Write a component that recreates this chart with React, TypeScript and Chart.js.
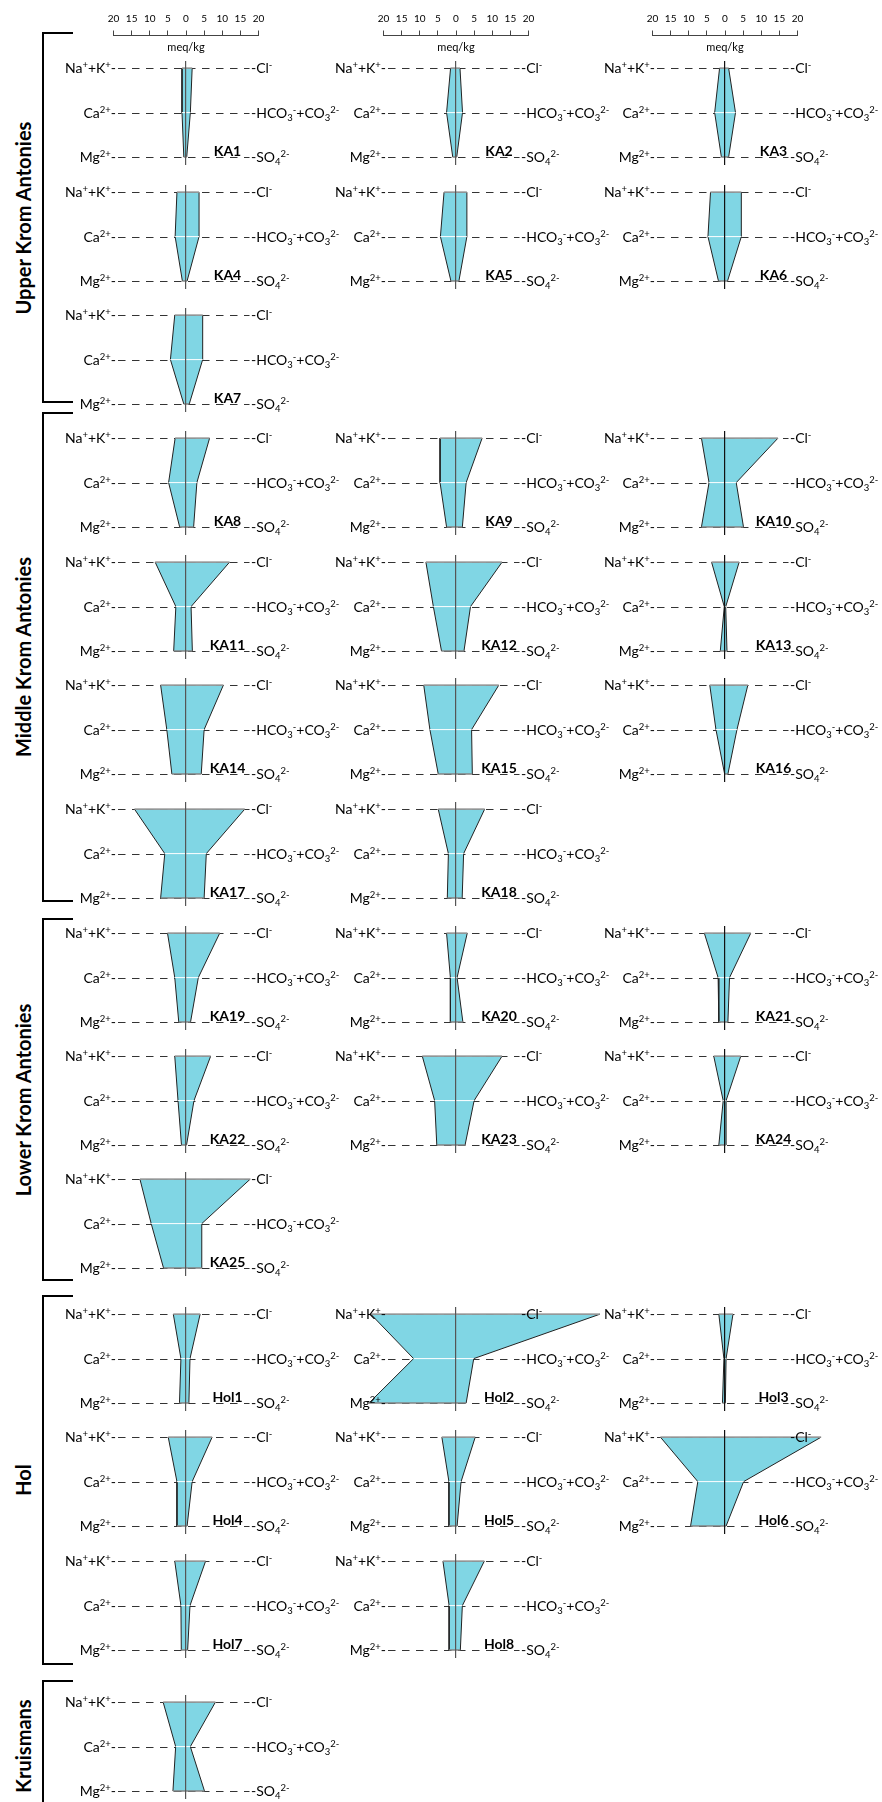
import React, { useEffect, useRef } from 'react';
import { Chart, registerables } from 'chart.js';

Chart.register(...registerables);

// ---------------- data ----------------
const groupNames = ['Upper Krom Antonies', 'Middle Krom Antonies', 'Lower Krom Antonies', 'Hol', 'Kruismans'];
const groupSizes = [7, 11, 7, 8, 1];

const sampleNames = [
  'KA1', 'KA2', 'KA3', 'KA4', 'KA5', 'KA6', 'KA7',
  'KA8', 'KA9', 'KA10', 'KA11', 'KA12', 'KA13', 'KA14', 'KA15', 'KA16', 'KA17', 'KA18',
  'KA19', 'KA20', 'KA21', 'KA22', 'KA23', 'KA24', 'KA25',
  'Hol1', 'Hol2', 'Hol3', 'Hol4', 'Hol5', 'Hol6', 'Hol7', 'Hol8',
  '',
];

// cations (meq/kg), plotted to the left
const naK = [1.1, 1.5, 1.5, 2.5, 3.3, 4.0, 3.1, 3.0, 4.4, 6.5, 8.5, 8.3, 3.7, 7.0, 8.9, 4.2, 14.2, 4.9, 5.1, 2.6, 5.7, 3.1, 9.3, 3.1, 12.7, 3.5, 23.5, 1.7, 4.9, 3.9, 17.8, 3.1, 3.6, 6.3];
const ca = [1.1, 2.6, 2.85, 3.0, 4.3, 4.7, 4.3, 4.8, 4.4, 4.4, 2.8, 6.25, 0.2, 5.3, 7.2, 2.5, 5.85, 2.1, 3.1, 1.55, 1.9, 2.2, 5.9, 0.5, 9.6, 1.4, 11.7, 0.3, 2.5, 1.95, 7.5, 1.4, 1.9, 2.85];
const mg = [0.6, 0.9, 1.0, 1.0, 1.4, 1.8, 0.6, 1.75, 2.6, 6.5, 3.4, 4.0, 1.3, 3.9, 4.9, 0.1, 7.0, 2.4, 2.0, 1.55, 1.7, 1.25, 5.3, 1.7, 6.2, 1.8, 24.0, 0.7, 2.5, 1.95, 9.5, 1.3, 1.9, 3.6];
// anions (meq/kg), plotted to the right
const cl = [1.7, 1.1, 1.0, 3.6, 3.0, 4.5, 4.6, 6.5, 7.2, 14.6, 12.0, 12.7, 3.9, 10.3, 11.8, 6.3, 16.2, 7.9, 9.3, 3.1, 7.1, 6.8, 12.7, 4.35, 17.7, 3.9, 39.7, 2.2, 7.2, 5.3, 26.5, 5.4, 7.8, 8.1];
const hco3 = [1.2, 1.8, 2.9, 3.6, 3.0, 4.5, 4.6, 3.0, 2.8, 3.1, 1.4, 4.0, 0.2, 5.0, 4.3, 3.3, 5.6, 2.1, 3.4, 0.3, 1.25, 2.2, 5.0, 0.3, 4.35, 1.1, 4.9, 0.3, 1.7, 1.4, 5.15, 1.1, 1.75, 1.2];
const so4 = [0.2, 0.2, 1.0, 0.3, 0.8, 0.7, 0.9, 2.1, 1.75, 5.1, 1.75, 2.2, 0.55, 4.2, 4.5, 0.8, 5.0, 1.7, 1.25, 1.9, 0.8, 0.15, 2.5, 0.3, 4.35, 0.8, 2.8, 0.1, 0.3, 0.3, 0.3, 0.45, 1.2, 5.1];

const axisMax = 20;
const axisStep = 5;
const unitLabel = 'meq/kg';

type Seg = [string, number]; // 0 normal, 1 superscript, 2 subscript
const leftIons: Seg[][] = [
  [['Na', 0], ['+', 1], ['+', 0], ['K', 0], ['+', 1], ['-', 0]],
  [['Ca', 0], ['2+', 1], ['-', 0]],
  [['Mg', 0], ['2+', 1], ['-', 0]],
];
const rightIons: Seg[][] = [
  [['-Cl', 0], ['-', 1]],
  [['-HCO', 0], ['3', 2], ['-', 1], ['+CO', 0], ['3', 2], ['2-', 1]],
  [['-SO', 0], ['4', 2], ['2-', 1]],
];

// ---------------- layout / style ----------------
const FONT = 'Lato, "Open Sans", sans-serif';
const FILL = 'rgb(128,214,228)';
const PX_PER_MEQ = 3.625;
const ION_GAP = 44.4;
const COL_X = [185.7, 456, 725.3];
const ROW_Y = [68.3, 191.7, 315, 438.4, 562, 685.6, 809, 933, 1056.3, 1179.5, 1314, 1437.6, 1561, 1702.3];
const GROUP_FIRST_ROW = [0, 3, 7, 10, 13];
const BRACKETS = [[33.3, 402.3], [412.7, 900.5], [919, 1280], [1296, 1664.3], [1681.3, 1850]];
const GROUP_LABEL_Y = [217.8, 656.6, 1099.5, 1480, 1745.6];
const NAME_DX = [41.5, 43, 48.5];
const CENTER_LINE = ['#555', '#555', '#111'];

const CANVAS_L = 130;
const CANVAS_R = 170;
const PAD_V = 12;
const AREA_TOP = 7.2;
const AREA_H = 104;
const DASH_L = 68;
const DASH_R = 63.5;
const LABEL_L = 70;
const LABEL_R = 65;

const MAIN_FONT = `14px ${FONT}`;
const SMALL_FONT = `9.5px ${FONT}`;

function drawRich(ctx: CanvasRenderingContext2D, segs: Seg[], x: number, y: number, align: 'left' | 'right') {
  let w = 0;
  for (const [t, k] of segs) {
    ctx.font = k ? SMALL_FONT : MAIN_FONT;
    w += ctx.measureText(t).width;
  }
  let cx = align === 'right' ? x - w : x;
  ctx.textAlign = 'left';
  ctx.textBaseline = 'alphabetic';
  for (const [t, k] of segs) {
    ctx.font = k ? SMALL_FONT : MAIN_FONT;
    const dy = k === 1 ? -4.8 : k === 2 ? 3 : 0;
    ctx.fillText(t, cx, y + dy);
    cx += ctx.measureText(t).width;
  }
}

function placement(i: number) {
  let start = 0;
  for (let g = 0; g < groupSizes.length; g++) {
    if (i < start + groupSizes[g]) {
      const j = i - start;
      return { row: GROUP_FIRST_ROW[g] + Math.floor(j / 3), col: j % 3 };
    }
    start += groupSizes[g];
  }
  return { row: 0, col: 0 };
}

function edge(data: { x: number; y: number }[], color: string, order: number) {
  return {
    data, showLine: true, borderColor: color, borderWidth: 1, pointRadius: 0, fill: false, order,
  } as any;
}

function StiffDiagram({ i }: { i: number }) {
  const ref = useRef<HTMLCanvasElement>(null);
  const { row, col } = placement(i);
  const left = Math.round(COL_X[col] - CANVAS_L);
  const top = Math.round(ROW_Y[row] - AREA_TOP - PAD_V);
  const W = CANVAS_L + CANVAS_R;
  const H = AREA_H + 2 * PAD_V;

  useEffect(() => {
    const poly = [
      { x: -naK[i], y: 0 }, { x: -ca[i], y: 1 }, { x: -mg[i], y: 2 },
      { x: so4[i], y: 2 }, { x: hco3[i], y: 1 }, { x: cl[i], y: 0 }, { x: -naK[i], y: 0 },
    ];
    const guides = {
      id: 'stiffGuides',
      beforeDatasetsDraw(chart: any) {
        const { ctx, scales: { x, y } } = chart;
        const c0 = x.getPixelForValue(0);
        ctx.save();
        ctx.strokeStyle = '#333';
        ctx.lineWidth = 1;
        ctx.setLineDash([7.5, 6.5]);
        for (let r = 0; r < 3; r++) {
          const py = Math.round(y.getPixelForValue(r)) + 0.5;
          ctx.beginPath();
          ctx.moveTo(c0 - DASH_L, py);
          ctx.lineTo(c0 + DASH_R, py);
          ctx.stroke();
        }
        ctx.restore();
      },
      afterDraw(chart: any) {
        const { ctx, scales: { x, y } } = chart;
        const c0 = x.getPixelForValue(0);
        ctx.save();
        ctx.fillStyle = '#000';
        for (let r = 0; r < 3; r++) {
          const py = y.getPixelForValue(r) + 5;
          drawRich(ctx, leftIons[r], c0 - LABEL_L, py, 'right');
          drawRich(ctx, rightIons[r], c0 + LABEL_R, py, 'left');
        }
        if (sampleNames[i]) {
          ctx.font = `bold 14px ${FONT}`;
          ctx.textAlign = 'center';
          ctx.textBaseline = 'alphabetic';
          ctx.fillText(sampleNames[i], c0 + NAME_DX[col], y.getPixelForValue(2) - 1.5);
        }
        ctx.restore();
      },
    };
    const chart = new Chart(ref.current as HTMLCanvasElement, {
      type: 'scatter',
      data: {
        datasets: [
          edge([{ x: -ca[i], y: 1 }, { x: hco3[i], y: 1 }], '#ffffff', 0),
          edge([{ x: -naK[i], y: 0 }, { x: cl[i], y: 0 }], '#b5b5b5', 0),
          edge([{ x: -mg[i], y: 2 }, { x: so4[i], y: 2 }], '#b5b5b5', 0),
          {
            data: poly,
            showLine: true, fill: 'shape', backgroundColor: FILL, borderColor: '#222', borderWidth: 1,
            pointRadius: 0, tension: 0, order: 1,
          } as any,
        ],
      },
      options: {
        responsive: false,
        animation: false,
        events: [],
        layout: { padding: { top: PAD_V, bottom: PAD_V, left: 0, right: 0 } },
        plugins: { legend: { display: false }, tooltip: { enabled: false }, title: { display: false } },
        scales: {
          x: {
            type: 'linear', min: -CANVAS_L / PX_PER_MEQ, max: CANVAS_R / PX_PER_MEQ, z: 1,
            afterBuildTicks: (s: any) => { s.ticks = [{ value: 0 }]; },
            ticks: { display: false },
            grid: { drawTicks: false, color: CENTER_LINE[col], lineWidth: 1.2, z: 1 },
            border: { display: false },
          },
          y: {
            type: 'linear', display: false, reverse: true,
            min: -AREA_TOP / ION_GAP, max: (AREA_H - AREA_TOP) / ION_GAP,
          },
        },
      } as any,
      plugins: [guides],
    });
    return () => chart.destroy();
  }, []);

  return (
    <canvas
      ref={ref}
      width={W}
      height={H}
      style={{ position: 'absolute', left, top, width: W, height: H }}
    />
  );
}

function TopAxis({ col }: { col: number }) {
  const ref = useRef<HTMLCanvasElement>(null);
  const W = 200;
  const H = 62;
  const left = Math.round(COL_X[col] - W / 2);
  const half = axisMax * PX_PER_MEQ;
  useEffect(() => {
    const unit = {
      id: 'unitLabel',
      afterDraw(chart: any) {
        const { ctx, scales: { x } } = chart;
        ctx.save();
        ctx.font = `11px ${FONT}`;
        ctx.fillStyle = '#000';
        ctx.textAlign = 'center';
        ctx.textBaseline = 'middle';
        ctx.fillText(unitLabel, x.getPixelForValue(0), x.bottom + 12);
        ctx.restore();
      },
    };
    const chart = new Chart(ref.current as HTMLCanvasElement, {
      type: 'scatter',
      data: { datasets: [] },
      options: {
        responsive: false,
        animation: false,
        events: [],
        layout: { padding: { top: 12, left: W / 2 - half, right: W / 2 - half, bottom: 4 } },
        plugins: { legend: { display: false }, tooltip: { enabled: false } },
        scales: {
          x: {
            type: 'linear', position: 'top', min: -axisMax, max: axisMax,
            ticks: {
              stepSize: axisStep, autoSkip: false, maxRotation: 0, padding: 6,
              color: '#000', font: { family: FONT, size: 10 },
              callback: (v: any) => String(Math.abs(Number(v))),
            },
            grid: { drawOnChartArea: false, drawTicks: true, tickLength: 4.5, color: '#444', lineWidth: 1 },
            border: { display: true, color: '#444', width: 1 },
          },
          y: { display: false, min: 0, max: 1 },
        },
      } as any,
      plugins: [unit],
    });
    return () => chart.destroy();
  }, []);
  return (
    <canvas ref={ref} width={W} height={H} style={{ position: 'absolute', left, top: 0, width: W, height: H }} />
  );
}

export default function App() {
  return (
    <div
      style={{
        position: 'absolute', left: 0, top: 0, width: 882, height: 1802,
        overflow: 'hidden', background: '#fff', fontFamily: FONT,
      }}
    >
      {BRACKETS.map(([t, b], g) => (
        <React.Fragment key={'br' + g}>
          <div style={{ position: 'absolute', left: 42.3, top: t - 1, width: 2, height: b - t + 2, background: '#000' }} />
          <div style={{ position: 'absolute', left: 42.3, top: t - 1, width: 30.4, height: 2, background: '#000' }} />
          <div style={{ position: 'absolute', left: 42.3, top: b - 1, width: 30.4, height: 2, background: '#000' }} />
        </React.Fragment>
      ))}
      {groupNames.map((name, g) => (
        <div
          key={'gl' + g}
          style={{
            position: 'absolute', left: 22.5 - 150, top: GROUP_LABEL_Y[g] - 12, width: 300, height: 24,
            lineHeight: '24px', textAlign: 'center', fontWeight: 700, fontSize: 20, color: '#000',
            transform: 'rotate(-90deg)', whiteSpace: 'nowrap',
          }}
        >
          {name}
        </div>
      ))}
      {[0, 1, 2].map((c) => <TopAxis key={'ax' + c} col={c} />)}
      {sampleNames.map((_, i) => <StiffDiagram key={'d' + i} i={i} />)}
    </div>
  );
}
